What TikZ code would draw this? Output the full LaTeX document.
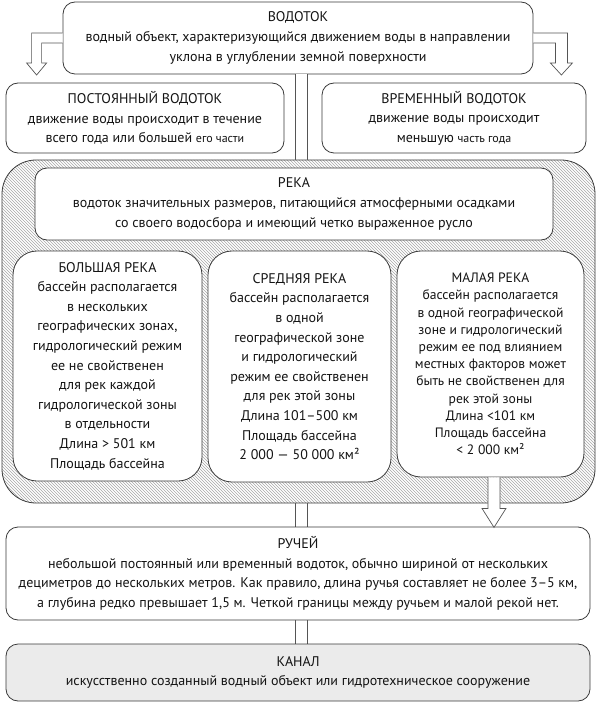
\documentclass[tikz,border=0pt]{standalone}
\usepackage{fontspec}
\setmainfont{PT Sans}
\usetikzlibrary{patterns,calc}
\definecolor{boxc}{HTML}{3A3A3A}
\definecolor{txt}{HTML}{141414}
\definecolor{canalfill}{HTML}{EBEBEB}
\definecolor{hatchc}{HTML}{A8A8A8}
\definecolor{barc}{HTML}{555555}
\begin{document}
\begin{tikzpicture}[x=1pt,y=-1pt,
  box/.style={draw=boxc, line width=0.8pt, fill=white, rounded corners=12pt,
    align=center, inner sep=0pt, text=txt, font=\fontsize{14}{19.6}\selectfont},
  bigbox/.style={box, rounded corners=24pt},
  smallbox/.style={bigbox, font=\fontsize{13.6}{17.2}\selectfont},
  hollow/.style={draw=barc, line width=0.7pt, fill=white, line join=miter},
  bar/.style={draw=barc, line width=0.7pt, double=white, double distance=11.5pt}
]
\useasboundingbox (0,0) rectangle (599,719);
\coordinate (bx) at (301.5,0);

% nodes (positions)
\node[box, minimum width=470pt, minimum height=72pt] (vod) at (298,38)
  {ВОДОТОК\\водный объект, характеризующийся движением воды в направлении\\уклона в углублении земной поверхности};
\node[box, minimum width=278pt, minimum height=70pt] (post) at (145,118)
  {ПОСТОЯННЫЙ ВОДОТОК\\движение воды происходит в течение\\всего года или большей {\fontsize{12}{19.6}\selectfont его части}};
\node[box, minimum width=264pt, minimum height=70pt] (vrem) at (454,118)
  {ВРЕМЕННЫЙ ВОДОТОК\\движение воды происходит\\меньшую {\fontsize{12}{19.6}\selectfont часть года}};

% bars behind
\draw[bar] (bx |- vod.south) -- (bx |- 0,165);
\draw[bar] (bx |- 0,500) -- (bx |- 0,530);
\draw[bar] (bx |- 0,617) -- (bx |- 0,647);

% container
\path[fill=white, rounded corners=34pt] (2,160) rectangle (595,503);
\path[pattern=north west lines, pattern color=hatchc, rounded corners=34pt] (2,160) rectangle (595,503);
\node[draw=boxc, line width=0.8pt, rounded corners=34pt, minimum width=593pt, minimum height=343pt, inner sep=0pt] (cont) at (298.5,331.5) {};

\node[box, minimum width=518pt, minimum height=72pt] (reka) at (294,204)
  {РЕКА\\водоток значительных размеров, питающийся атмосферными осадками\\со своего водосбора и имеющий четко выраженное русло};
\node[bigbox, minimum width=189pt, minimum height=230pt] (bol) at (107.5,366)
  {БОЛЬШАЯ РЕКА\\бассейн располагается\\в нескольких\\географических зонах,\\гидрологический режим\\ее не свойственен\\для рек каждой\\гидрологической зоны\\в отдельности\\Длина > 501 км\\Площадь бассейна};
\node[bigbox, minimum width=183pt, minimum height=231pt] (sred) at (299.5,366.5)
  {СРЕДНЯЯ РЕКА\\бассейн располагается\\в одной\\географической зоне\\и гидрологический\\режим ее свойственен\\для рек этой зоны\\Длина 101–500 км\\Площадь бассейна\\2~000 — 50~000 км²};
\node[smallbox, minimum width=187pt, minimum height=226pt] (mal) at (490.5,364)
  {МАЛАЯ РЕКА\\бассейн располагается\\в одной географической\\зоне и гидрологический\\режим ее под влиянием\\местных факторов может\\быть не свойственен для\\рек этой зоны\\Длина <101 км\\Площадь бассейна\\< 2~000 км²};

\node[box, minimum width=584pt, minimum height=93pt] (ruch) at (298,573.5)
  {РУЧЕЙ\\небольшой постоянный или временный водоток, обычно шириной от нескольких\\дециметров до нескольких метров. Как правило, длина ручья составляет не более 3–5 км,\\а глубина редко превышает 1,5 м. Четкой границы между ручьем и малой рекой нет.};
\node[box, fill=canalfill, minimum width=584pt, minimum height=57pt] (kanal) at (298,672.5)
  {КАНАЛ\\искусственно созданный водный объект или гидротехническое сооружение};

% hollow arrows
\draw[hollow] ($(vod.west)+(0,-5)$) -- ++(-31,0) -- ++(0,30) -- ++(-5,0) -- ++(10,12)
  -- ++(10,-12) -- ++(-5,0) -- ++(0,-20) -- ++(21,0);
\draw[hollow] ($(vod.east)+(0,-5)$) -- ++(34,0) -- ++(0,30) -- ++(5,0) -- ++(-11,12)
  -- ++(-11,-12) -- ++(5,0) -- ++(0,-20) -- ++(-22,0);
\draw[hollow] ($(mal.south)+(-2.5,0)$) -- ++(0,31) -- ++(-6,0) -- ++(12,19) -- ++(12,-19)
  -- ++(-6,0) -- ++(0,-31);
\end{tikzpicture}
\end{document}
